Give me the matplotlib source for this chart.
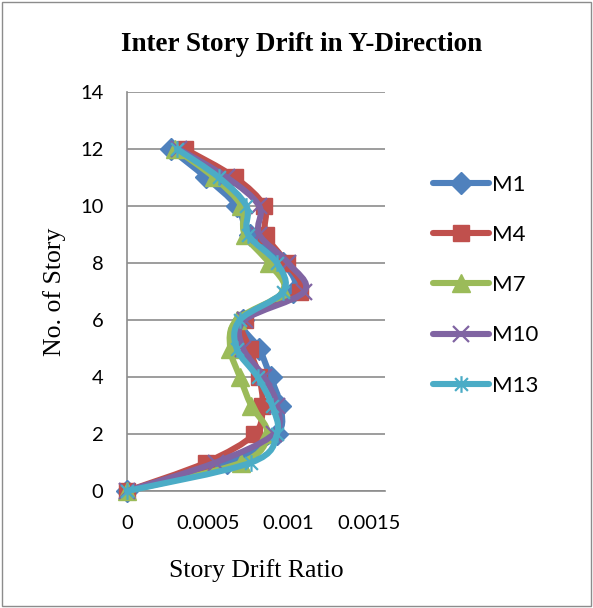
import numpy as np
import matplotlib.pyplot as plt
from matplotlib.path import Path
from matplotlib.patches import PathPatch, Rectangle
from matplotlib.lines import Line2D

# storey numbers and drift ratios per model
stories = [0, 1, 2, 3, 4, 5, 6, 7, 8, 9, 10, 11, 12]
m1 = [0, 0.00062, 0.00093, 0.00095, 0.00089, 0.00082, 0.00072, 0.00103, 0.00097, 0.00076, 0.00068, 0.00049, 0.00027]
m4 = [0, 0.00049, 0.00079, 0.00084, 0.00082, 0.00076, 0.00073, 0.00107, 0.00099, 0.00086, 0.00085, 0.00067, 0.00036]
m7 = [0, 0.00071, 0.00087, 0.00077, 0.00070, 0.00064, 0.00068, 0.00097, 0.00088, 0.00073, 0.00071, 0.00054, 0.00030]
m10 = [0, 0.00055, 0.00091, 0.00093, 0.00085, 0.00072, 0.00073, 0.00110, 0.00100, 0.00082, 0.00082, 0.00062, 0.00032]
m13 = [0, 0.00077, 0.00093, 0.00090, 0.00081, 0.00068, 0.00070, 0.00097, 0.00093, 0.00075, 0.00074, 0.00057, 0.00031]

labels = ['M1', 'M4', 'M7', 'M10', 'M13']
series = [m1, m4, m7, m10, m13]
colors = ['#4F81BD', '#C0504D', '#9BBB59', '#8064A2', '#4BACC6']

# excel style "star": an x with a vertical bar through it
star = Path([(-1, -1), (1, 1), (-1, 1), (1, -1), (0, -1.3), (0, 1.3)],
            [Path.MOVETO, Path.LINETO, Path.MOVETO, Path.LINETO, Path.MOVETO, Path.LINETO])
markers = ['D', 's', '^', 'x', star]
msizes = [11, 12, 13, 12, 12]

tick_font = 'Lato'
serif = 'Liberation Serif'


def smooth_path(x, y):
    # cubic bezier through every point, catmull-rom style control points
    pts = np.column_stack([x, y])
    n = len(pts)
    verts = [pts[0]]
    codes = [Path.MOVETO]
    for i in range(n - 1):
        p0 = pts[max(i - 1, 0)]
        p1 = pts[i]
        p2 = pts[i + 1]
        p3 = pts[min(i + 2, n - 1)]
        c1 = p1 + (p2 - p0) / 6.0
        c2 = p2 - (p3 - p1) / 6.0
        verts += [c1, c2, p2]
        codes += [Path.CURVE4] * 3
    return Path(verts, codes)


def marker_style(col, mk, ms):
    if mk == 'x' or isinstance(mk, Path):
        return dict(marker=mk, markersize=ms, markeredgecolor=col, markeredgewidth=1.6)
    return dict(marker=mk, markersize=ms, markerfacecolor=col, markeredgecolor=col)


fig = plt.figure(figsize=(5.93, 6.08), dpi=100)
ax = fig.add_axes([0.2142, 0.1924, 0.435, 0.6563])

for k, (vals, col, mk, ms) in enumerate(zip(series, colors, markers, msizes)):
    z = 3 + k
    patch = PathPatch(smooth_path(vals, stories), facecolor='none', edgecolor=col,
                      lw=4.4, capstyle='round', joinstyle='round', zorder=z, clip_on=False)
    ax.add_patch(patch)
    ax.plot(vals, stories, linestyle='none', zorder=z, clip_on=False,
            **marker_style(col, mk, ms))

ax.set_xlim(0, 0.0016)
ax.set_ylim(0, 14)
ax.set_xticks([0, 0.0005, 0.001, 0.0015])
ax.set_xticklabels(['0', '0.0005', '0.001', '0.0015'])
ax.set_yticks(range(0, 15, 2))
ax.yaxis.grid(True, color='#8c8c8c', lw=1.2)
ax.set_axisbelow(True)
for s in ['top', 'right']:
    ax.spines[s].set_visible(False)
for s in ['left', 'bottom']:
    ax.spines[s].set_color('#8c8c8c')
    ax.spines[s].set_linewidth(1.2)
ax.tick_params(length=0, labelsize=14.5)
ax.tick_params(axis='y', pad=17)
ax.tick_params(axis='x', pad=17)
for lab in ax.get_xticklabels() + ax.get_yticklabels():
    lab.set_fontfamily(tick_font)

fig.text(0.509, 0.926, 'Inter Story Drift in Y-Direction', ha='center', va='center',
         fontsize=19.5, fontweight='bold', family=serif)
ax.set_xlabel('Story Drift Ratio', fontsize=18.5, family=serif, labelpad=20)
ax.set_ylabel('No. of Story', fontsize=18.5, family=serif, labelpad=10)

handles = [Line2D([], [], color=col, lw=4.4, solid_capstyle='round', **marker_style(col, mk, ms))
           for col, mk, ms in zip(colors, markers, msizes)]
leg = fig.legend(handles, labels, loc='center left', bbox_to_anchor=(0.697, 0.531),
                 frameon=False, handlelength=2.5, handletextpad=0.15, labelspacing=1.36,
                 prop={'family': tick_font, 'size': 16})

# chart area border
fig.patches.append(Rectangle((0.004, 0.004), 0.992, 0.992, transform=fig.transFigure,
                             fill=False, edgecolor='#8c8c8c', lw=1))

fig.savefig('out.png', dpi=100)
